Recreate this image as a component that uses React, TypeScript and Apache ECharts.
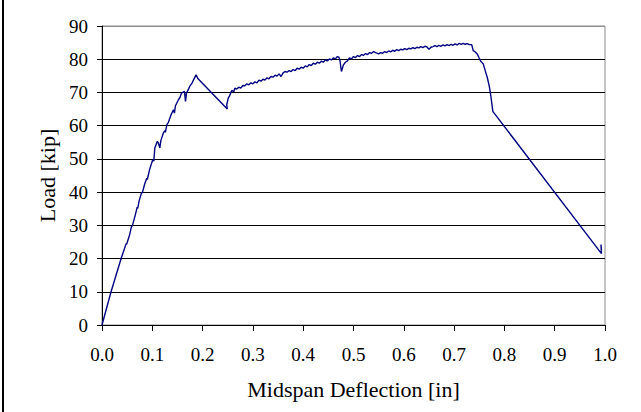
import React, { useEffect, useRef } from "react";
import * as echarts from "echarts";

const xTicks = [0, 0.1, 0.2, 0.3, 0.4, 0.5, 0.6, 0.7, 0.8, 0.9, 1.0];
const yTicks = [0, 10, 20, 30, 40, 50, 60, 70, 80, 90];

const deflection: number[] = [
  0, 0.018, 0.038, 0.048, 0.049, 0.055, 0.059, 0.06, 0.066, 0.07, 0.071, 0.074,
  0.079, 0.08, 0.085, 0.089, 0.09, 0.095, 0.101, 0.103, 0.105, 0.11, 0.112,
  0.115, 0.117, 0.122, 0.125, 0.126, 0.129, 0.132, 0.135, 0.138, 0.142, 0.144,
  0.146, 0.152, 0.155, 0.158, 0.164, 0.166, 0.168, 0.172, 0.175, 0.179, 0.182,
  0.187, 0.191, 0.249, 0.248, 0.251, 0.253, 0.258, 0.262, 0.264, 0.268, 0.272,
  0.276, 0.28, 0.284, 0.288, 0.292, 0.296, 0.3, 0.304, 0.308, 0.312, 0.316,
  0.32, 0.324, 0.328, 0.332, 0.336, 0.34, 0.344, 0.348, 0.352, 0.356, 0.36,
  0.364, 0.368, 0.372, 0.376, 0.38, 0.384, 0.388, 0.392, 0.396, 0.4, 0.404,
  0.408, 0.412, 0.416, 0.42, 0.424, 0.428, 0.432, 0.436, 0.44, 0.444, 0.448,
  0.452, 0.456, 0.46, 0.464, 0.468, 0.471, 0.473, 0.476, 0.48, 0.484, 0.488,
  0.492, 0.496, 0.5, 0.504, 0.508, 0.512, 0.516, 0.52, 0.524, 0.528, 0.532,
  0.536, 0.54, 0.545, 0.55, 0.554, 0.558, 0.562, 0.566, 0.57, 0.574, 0.578,
  0.582, 0.586, 0.59, 0.594, 0.598, 0.602, 0.606, 0.61, 0.614, 0.618, 0.622,
  0.626, 0.63, 0.634, 0.638, 0.642, 0.646, 0.65, 0.654, 0.658, 0.662, 0.666,
  0.67, 0.674, 0.678, 0.682, 0.686, 0.69, 0.694, 0.698, 0.702, 0.706, 0.71,
  0.714, 0.718, 0.722, 0.726, 0.73, 0.735, 0.738, 0.742, 0.746, 0.75, 0.753,
  0.758, 0.762, 0.766, 0.77, 0.773, 0.777, 0.993, 0.992, 0.993,
];

const load: number[] = [
  0, 10, 20, 24.5, 24.3, 27.2, 30, 29.7, 33, 35.5, 35.1, 37.5,
  40, 39.7, 42.5, 44.2, 43.8, 47, 49.8, 49.3, 53.3, 55.3, 54.8,
  53.3, 55.5, 57.8, 58.5, 58, 60.3, 61, 62.3, 63.5, 64.8, 63.8,
  66, 67.8, 68.5, 69.8, 70.3, 67.3, 69.8, 71, 72, 72.8, 73.8,
  75.3, 74.1, 65.0, 66.3, 68.3, 68.8, 70.6, 70.2, 71.3, 71.0, 71.6,
  71.3, 72.1, 72.0, 72.6, 72.3, 72.9, 72.6, 73.2, 72.9, 73.7, 73.4,
  74.0, 73.7, 74.4, 74.1, 74.8, 74.6, 75.2, 74.9, 75.6, 74.8, 75.9,
  76.3, 76.1, 76.6, 76.3, 76.9, 76.6, 77.3, 77.0, 77.6, 77.3, 78.0,
  77.7, 78.4, 78.1, 78.8, 78.5, 79.1, 78.8, 79.4, 79.1, 79.8, 79.5,
  80.1, 79.8, 80.4, 80.1, 80.8, 80.6, 79.7, 76.3, 78.3, 79.1, 79.5,
  80.4, 80.1, 80.8, 80.5, 81.1, 80.8, 81.4, 81.2, 81.7, 81.4, 82.0,
  81.8, 82.3, 81.9, 81.6, 82.0, 81.8, 82.3, 82.0, 82.5, 82.2, 82.7,
  82.4, 82.9, 82.6, 83.0, 82.8, 83.2, 82.9, 83.3, 83.1, 83.5, 83.2,
  83.6, 83.4, 83.8, 83.5, 83.9, 83.7, 83.0, 83.6, 83.8, 84.1, 83.8,
  84.2, 83.9, 84.3, 84.0, 84.4, 84.1, 84.5, 84.2, 84.6, 84.3, 84.8,
  84.5, 84.8, 84.5, 84.7, 84.4, 84.4, 82.6, 82.2, 81.6, 80.3, 79.4,
  78.6, 76.5, 74.5, 71.8, 69.0, 64.3, 21.5, 24.2, 22.3,
];

const FONT = "Liberation Serif";

export default function App() {
  const ref = useRef<HTMLDivElement>(null);
  useEffect(() => {
    if (!ref.current) return;
    const chart = echarts.init(ref.current, null, { renderer: "svg" });
    const data = deflection.map((x, i) => [x, load[i]]);
    const gridColors = yTicks.map((v, i) => (i === yTicks.length - 1 ? "#8c8c8c" : "#000"));
    chart.setOption({
      animation: false,
      backgroundColor: "#fff",
      textStyle: { fontFamily: FONT, color: "#000" },
      grid: {
        left: 102,
        right: 36,
        top: 26,
        bottom: 87,
        show: true,
        borderColor: "#8c8c8c",
        borderWidth: 1,
        backgroundColor: "transparent",
      },
      graphic: [
        {
          type: "rect",
          left: 2,
          top: 0,
          shape: { width: 2, height: 412 },
          style: { fill: "#000" },
        },
      ],
      xAxis: {
        type: "value",
        min: xTicks[0],
        max: xTicks[xTicks.length - 1],
        interval: 0.1,
        name: "Midspan Deflection [in]",
        nameLocation: "middle",
        nameGap: 53,
        nameTextStyle: { fontFamily: FONT, fontSize: 22, color: "#000" },
        axisLine: { show: true, onZero: false, lineStyle: { color: "#000", width: 1 } },
        axisTick: { show: true, inside: false, length: 6, lineStyle: { color: "#000" } },
        axisLabel: {
          fontFamily: FONT,
          fontSize: 19,
          color: "#000",
          margin: 20,
          formatter: (v: number) => v.toFixed(1),
        },
        splitLine: { show: false },
      },
      yAxis: {
        type: "value",
        min: yTicks[0],
        max: yTicks[yTicks.length - 1],
        interval: 10,
        name: "Load [kip]",
        nameLocation: "middle",
        nameGap: 42,
        nameTextStyle: { fontFamily: FONT, fontSize: 22, color: "#000" },
        axisLine: { show: true, lineStyle: { color: "#000", width: 1 } },
        axisTick: { show: true, inside: false, length: 5, lineStyle: { color: "#000" } },
        axisLabel: { fontFamily: FONT, fontSize: 19, color: "#000", margin: 14 },
        splitLine: { show: true, lineStyle: { color: gridColors, width: 1 } },
      },
      series: [
        {
          type: "line",
          data,
          showSymbol: false,
          symbol: "none",
          lineStyle: { color: "#000080", width: 1.4 },
          itemStyle: { color: "#000080" },
        },
      ],
    });
    return () => chart.dispose();
  }, []);
  return (
    <div
      ref={ref}
      style={{ position: "fixed", left: 0, top: 0, width: 641, height: 412 }}
    />
  );
}
